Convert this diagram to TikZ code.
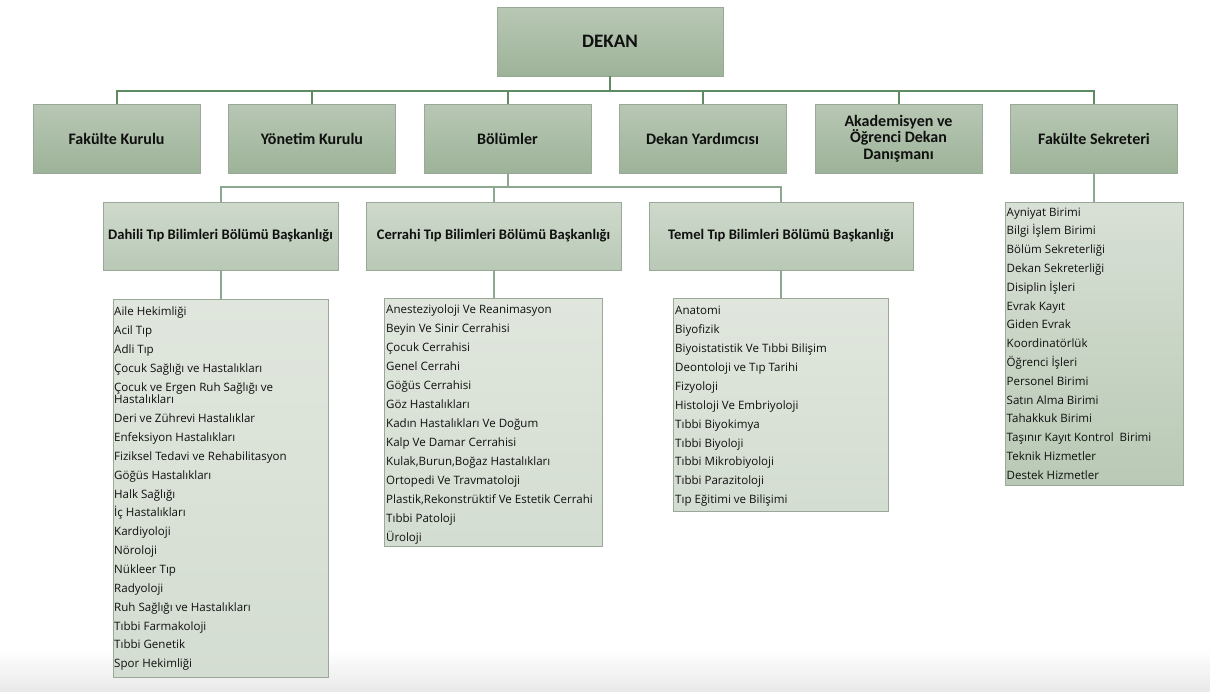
\documentclass[tikz,border=0pt]{standalone}
\usepackage{fontspec}
\setmainfont{Carlito}
\newfontfamily\listfont{Open Sans}
\definecolor{topA}{HTML}{B8C7B4}
\definecolor{botA}{HTML}{9DB399}
\definecolor{topB}{HTML}{CFD9CC}
\definecolor{botB}{HTML}{B9C9B6}
\definecolor{listTop}{HTML}{E0E6DD}
\definecolor{listBot}{HTML}{D4DDD1}
\definecolor{fsTop}{HTML}{D9E0D6}
\definecolor{fsBot}{HTML}{B9C9B5}
\definecolor{edgeC}{HTML}{9AA897}
\definecolor{lineDark}{HTML}{5E8B64}
\definecolor{lineLight}{HTML}{8DA890}
\definecolor{bandC}{HTML}{E9E9E9}
\definecolor{txt}{HTML}{101010}
\begin{document}
\begin{tikzpicture}[x=1pt,y=-1pt,
  box/.style={rectangle, draw=edgeC, line width=0.8pt, inner sep=0pt, align=center, text=txt},
  rowA/.style={box, top color=topA, bottom color=botA, minimum width=167pt, minimum height=69pt, font=\fontsize{16}{16.7}\selectfont\bfseries},
  rowB/.style={box, top color=topB, bottom color=botB, minimum height=68pt, font=\fontsize{14.6}{16}\selectfont\bfseries},
  listbox/.style={box, top color=listTop, bottom color=listBot},
  fsbox/.style={box, top color=fsTop, bottom color=fsBot},
  item/.style={anchor=base west, inner sep=0pt, text=txt, font=\listfont\fontsize{11.55}{12.7}\selectfont},
  dk/.style={draw=lineDark, line width=2pt},
  lt/.style={draw=lineLight, line width=2pt}]

\useasboundingbox (0,0) rectangle (1210,691);
\shade[top color=white, bottom color=bandC] (0,650) rectangle (1210,691);

% top
\node[rowA, minimum width=226pt, font=\fontsize{19}{20}\selectfont\bfseries] (dekan) at (610,41.5) {DEKAN};

% row 2
\node[rowA] (fk)  at (116.5,138.5) {Fakülte Kurulu};
\node[rowA] (yk)  at (312,138.5)   {Yönetim Kurulu};
\node[rowA] (bol) at (507.5,138.5) {Bölümler};
\node[rowA] (dy)  at (702.5,138.5) {Dekan Yardımcısı};
\node[rowA] (ak)  at (898.5,138.5) {Akademisyen ve\\Öğrenci Dekan\\Danışmanı};
\node[rowA] (fs)  at (1094,138.5)  {Fakülte Sekreteri};

\coordinate (bar1) at (0,90.5);
\draw[dk] (dekan.south) -- (dekan.south |- bar1);
\draw[dk] (fk.north) |- (fs.north |- bar1) -- (fs.north);
\foreach \n in {yk,bol,dy,ak} \draw[dk] (\n.north) -- (\n.north |- bar1);

% row 3
\node[rowB, minimum width=235pt] (dah) at (220.5,236) {Dahili Tıp Bilimleri Bölümü Başkanlığı};
\node[rowB, minimum width=255pt] (cer) at (493.5,236) {Cerrahi Tıp Bilimleri Bölümü Başkanlığı};
\node[rowB, minimum width=264pt] (tem) at (781,236)   {Temel Tıp Bilimleri Bölümü Başkanlığı};

\coordinate (bar2) at (0,187);
\draw[lt] (bol.south) -- (bol.south |- bar2);
\draw[lt] (dah.north) |- (tem.north |- bar2) -- (tem.north);
\draw[lt] (cer.north) -- (cer.north |- bar2);

% list boxes
\node[listbox, minimum width=215pt, minimum height=378pt] (dahL) at (220.5,488) {};
\node[listbox, minimum width=218pt, minimum height=248pt] (cerL) at (493,422) {};
\node[listbox, minimum width=215pt, minimum height=213pt] (temL) at (780.5,404.5) {};
\node[fsbox, minimum width=178pt, minimum height=283pt] (fsL) at (1094,343.5) {};

\draw[lt] (dah.south) -- (dah.south |- dahL.north);
\draw[lt] (cer.south) -- (cer.south |- cerL.north);
\draw[lt] (tem.south) -- (tem.south |- temL.north);
\draw[lt] (fs.south) -- (fs.south |- fsL.north);

% Dahili items
\foreach \t [count=\i from 0] in {Aile Hekimliği, Acil Tıp, Adli Tıp, Çocuk Sağlığı ve Hastalıkları}
  \node[item] (d\i) at (114,{315.7+18.85*\i}) {\t};
\node[item] (d4a) at (114,391.1) {Çocuk ve Ergen Ruh Sağlığı ve};
\node[item] (d4b) at (114,403.8) {Hastalıkları};
\foreach \t [count=\i from 5] in {Deri ve Zührevi Hastalıklar, Enfeksiyon Hastalıkları, Fiziksel Tedavi ve Rehabilitasyon, Göğüs Hastalıkları, Halk Sağlığı, İç Hastalıkları, Kardiyoloji, Nöroloji, Nükleer Tıp, Radyoloji, Ruh Sağlığı ve Hastalıkları, Tıbbi Farmakoloji, Tıbbi Genetik, Spor Hekimliği}
  \node[item] (d\i) at (114,{328.4+18.85*\i}) {\t};

% Cerrahi items
\foreach \t [count=\i from 0] in {Anesteziyoloji Ve Reanimasyon, Beyin Ve Sinir Cerrahisi, Çocuk Cerrahisi, Genel Cerrahi, Göğüs Cerrahisi, Göz Hastalıkları, Kadın Hastalıkları Ve Doğum, Kalp Ve Damar Cerrahisi, {Kulak,Burun,Boğaz Hastalıkları}, Ortopedi Ve Travmatoloji, {Plastik,Rekonstrüktif Ve Estetik Cerrahi}, Tıbbi Patoloji, Üroloji}
  \node[item] (c\i) at (386,{313.3+19.0*\i}) {\t};

% Temel items
\foreach \t [count=\i from 0] in {Anatomi, Biyofizik, Biyoistatistik Ve Tıbbi Bilişim, Deontoloji ve Tıp Tarihi, Fizyoloji, Histoloji Ve Embriyoloji, Tıbbi Biyokimya, Tıbbi Biyoloji, Tıbbi Mikrobiyoloji, Tıbbi Parazitoloji, Tıp Eğitimi ve Bilişimi}
  \node[item] (t\i) at (675,{314.7+18.9*\i}) {\t};

% Sekreter items
\foreach \t [count=\i from 0] in {Ayniyat Birimi, Bilgi İşlem Birimi, Bölüm Sekreterliği, Dekan Sekreterliği, Disiplin İşleri, Evrak Kayıt, Giden Evrak, Koordinatörlük, Öğrenci İşleri, Personel Birimi, Satın Alma Birimi, Tahakkuk Birimi, Taşınır Kayıt Kontrol\hspace{3pt} Birimi, Teknik Hizmetler, Destek Hizmetler}
  \node[item] (s\i) at (1006.5,{216+18.8*\i}) {\t};
\end{tikzpicture}
\end{document}
